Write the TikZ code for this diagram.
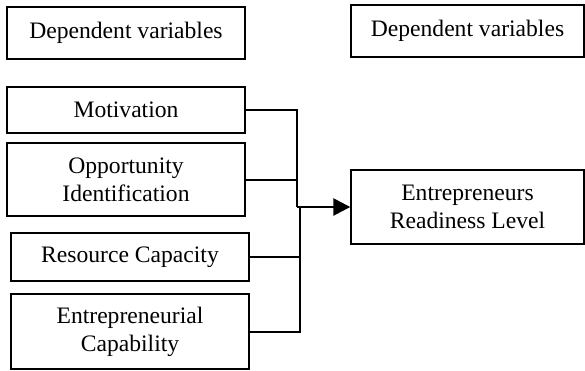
\documentclass[tikz,border=0pt]{standalone}
\usepackage{fontspec}
\setmainfont{Liberation Serif}
\usetikzlibrary{arrows.meta}
\begin{document}
\begin{tikzpicture}[x=1pt,y=-1pt,
  box/.style={draw,line width=1.4pt,inner sep=0pt,align=center,
    font=\fontsize{23.6}{28}\selectfont},
  conn/.style={line width=2pt},
  feed/.style={line width=2.6pt,-{Triangle[length=17pt,width=17pt]}}]
\useasboundingbox (0,0) rectangle (585,370);
% header boxes
\node[box,minimum width=238pt,minimum height=52pt] (dv1) at (126,33) {Dependent variables};
\node[box,minimum width=233pt,minimum height=52pt] (dv2) at (467.5,31) {Dependent variables};
% factor boxes
\node[box,minimum width=238pt,minimum height=46pt] (mot) at (126,110) {Motivation};
\node[box,minimum width=238pt,minimum height=73pt] (opp) at (126,179.5) {Opportunity\\Identification};
\node[box,minimum width=238pt,minimum height=48pt] (res) at (130,257) {Resource Capacity};
\node[box,minimum width=238pt,minimum height=75pt] (cap) at (130,331.5) {Entrepreneurial\\Capability};
% outcome box
\node[box,minimum width=233pt,minimum height=74pt] (erl) at (467.5,207) {Entrepreneurs\\Readiness Level};
% junction points
\coordinate (ja) at (297,207);
\coordinate (jb) at (300,207);
% connectors
\draw[conn] (mot.east) -| (ja);
\draw[conn] (opp.east) -- (opp.east -| ja);
\draw[conn] (cap.east) -| (jb);
\draw[conn] (res.east) -- (res.east -| jb);
\draw[feed] (ja) -- (erl.west);
\end{tikzpicture}
\end{document}
